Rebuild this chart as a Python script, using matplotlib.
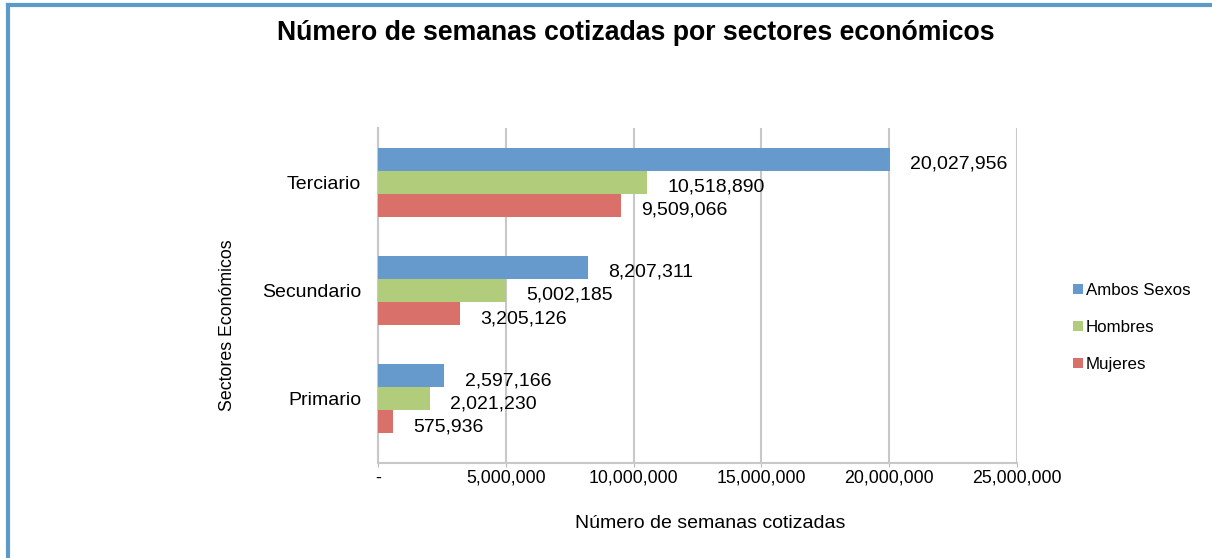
import matplotlib.pyplot as plt
from matplotlib.lines import Line2D
from matplotlib.patches import Patch
import numpy as np

plt.rcParams['font.family'] = ['Liberation Sans', 'DejaVu Sans']

# Datos
sectores = ['Primario', 'Secundario', 'Terciario']
ambos = [2597166, 8207311, 20027956]
hombres = [2021230, 5002185, 10518890]
mujeres = [575936, 3205126, 9509066]
series = ['Ambos Sexos', 'Hombres', 'Mujeres']
colores = ['#6699cc', '#b1cc7b', '#d9716a']
xticks = [0, 5000000, 10000000, 15000000, 20000000, 25000000]

fig = plt.figure(figsize=(12.12, 5.58), dpi=100)
ax = fig.add_axes([0.3119, 0.1703, 0.5272, 0.6003])

y = np.arange(len(sectores))
h = 0.213
for k, vals in enumerate([ambos, hombres, mujeres]):
    pos = y + h - k * h
    ax.barh(pos, vals, height=h, color=colores[k], label=series[k], zorder=3)
    for p, v in zip(pos, vals):
        ax.text(v + 800000, p - 0.05, f'{v:,}', va='center', ha='left',
                fontsize=14, color='black', zorder=4)

ax.set_xlim(0, 25000000)
ax.set_ylim(-0.6, 2.5)
ax.set_yticks(y)
ax.set_yticklabels(sectores, fontsize=14)
ax.set_xticks(xticks)
ax.set_xticklabels(['-'] + [f'{t:,}' for t in xticks[1:]], fontsize=12.8)
ax.tick_params(axis='y', length=0, pad=12)
ax.tick_params(axis='x', length=3, color='#bbbbbb', pad=2)
ax.grid(axis='x', color='#c8c8c8', linewidth=1.5, zorder=0)
for s in ['top', 'right']:
    ax.spines[s].set_visible(False)
for s in ['left', 'bottom']:
    ax.spines[s].set_color('#c8c8c8')
    ax.spines[s].set_linewidth(1.5)

fig.text(0.188, 0.418, 'Sectores Económicos', rotation=90, ha='center', va='center', fontsize=12.8)
fig.text(0.586, 0.062, 'Número de semanas cotizadas', ha='center', va='center', fontsize=14)
fig.text(0.525, 0.94, 'Número de semanas cotizadas por sectores económicos',
         ha='center', va='center', fontsize=19.2, fontweight='bold')

handles = [Patch(facecolor=c, edgecolor='none') for c in colores]
fig.legend(handles, series, loc='center left', bbox_to_anchor=(0.873, 0.413),
           frameon=False, fontsize=12.2, handlelength=0.6, handleheight=0.6,
           handletextpad=0.15, labelspacing=1.3)

# Marco
fig.add_artist(Line2D([0.0066, 0.0066], [0, 0.991], color='#5b9bc8', linewidth=3, transform=fig.transFigure))
fig.add_artist(Line2D([0.0066, 1], [0.991, 0.991], color='#5b9bc8', linewidth=3, transform=fig.transFigure))

fig.savefig('out.png', dpi=100)
